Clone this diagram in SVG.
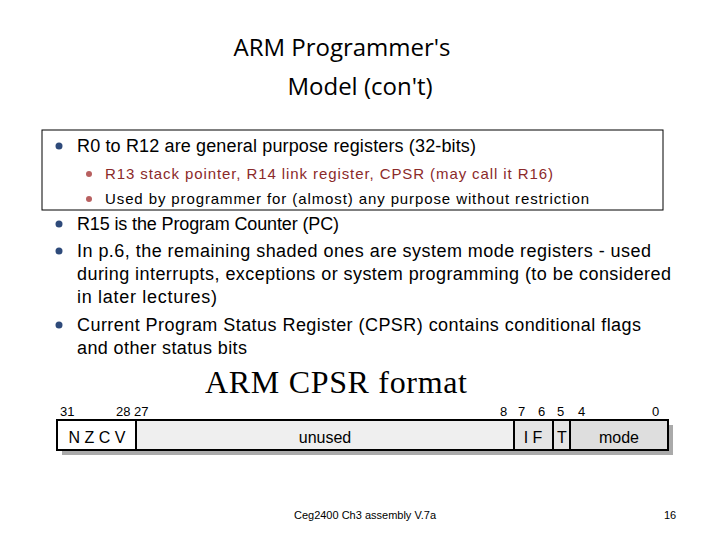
<svg xmlns="http://www.w3.org/2000/svg" width="720" height="540" viewBox="0 0 720 540">
<style>
.t{font-family:"Open Sans","Noto Sans",sans-serif;font-size:24px;fill:#000;text-anchor:middle}
.b{font-family:"Liberation Sans",Arial,sans-serif;font-size:18px;fill:#000}
.s{font-family:"Liberation Sans",Arial,sans-serif;font-size:15px;fill:#000}
.n{font-family:"Liberation Sans",Arial,sans-serif;font-size:13px;fill:#000}
.f{font-family:"Liberation Sans",Arial,sans-serif;font-size:16px;fill:#000;text-anchor:middle}
.c{fill:none;stroke:#000;stroke-width:2}
</style>
<rect width="720" height="540" fill="#fff"/>
<text class="t" x="342" y="56">ARM Programmer's</text>
<text class="t" x="360" y="95">Model (con't)</text>
<rect x="42" y="130" width="621" height="80" fill="none" stroke="#000" stroke-width="1"/>
<g fill="#2e4a7a">
<circle cx="59" cy="146" r="3.5"/><circle cx="59" cy="224" r="3.5"/><circle cx="59" cy="251" r="3.5"/><circle cx="59" cy="325" r="3.5"/>
</g>
<g fill="#b86060"><circle cx="89" cy="174" r="3"/><circle cx="89" cy="199" r="3"/></g>
<text class="b" x="77" y="152" textLength="399">R0 to R12 are general purpose registers (32-bits)</text>
<text class="s" x="105" y="179" textLength="448" style="fill:#8b2a2a">R13 stack pointer, R14 link register, CPSR (may call it R16)</text>
<text class="s" x="105" y="204" textLength="484">Used by programmer for (almost) any purpose without restriction</text>
<text class="b" x="77" y="230" textLength="262">R15 is the Program Counter (PC)</text>
<text class="b" x="77" y="257" textLength="574">In p.6, the remaining shaded ones are system mode registers - used</text>
<text class="b" x="77" y="280" textLength="594">during interrupts, exceptions or system programming (to be considered</text>
<text class="b" x="77" y="303" textLength="140">in later lectures)</text>
<text class="b" x="77" y="331" textLength="564">Current Program Status Register (CPSR) contains conditional flags</text>
<text class="b" x="77" y="354" textLength="170">and other status bits</text>
<text x="336" y="393" style="font-family:'Liberation Serif','Times New Roman',serif;font-size:32px;text-anchor:middle" textLength="262">ARM CPSR format</text>
<g id="cpsr">
<rect x="62" y="425" width="611" height="30" fill="#aaa"/>
<rect x="57" y="420" width="79" height="30" fill="#fff"/>
<rect x="136" y="420" width="378" height="30" fill="#efefef"/>
<rect x="514" y="420" width="56" height="30" fill="#e4e4e4"/>
<rect x="570" y="420" width="98" height="30" fill="#dedede"/>
<rect x="57" y="420" width="611" height="30" class="c"/>
<path d="M136 420V450M514 420V450M553 420V450M570 420V450" class="c"/>
<text class="f" x="97" y="443">N Z C V</text>
<text class="f" x="325" y="443">unused</text>
<text class="f" x="533" y="443">I F</text>
<text class="f" x="562" y="443">T</text>
<text class="f" x="619" y="443">mode</text>
<text class="n" x="60" y="416">31</text>
<text class="n" x="116" y="416">28 27</text>
<text class="n" x="500" y="416">8</text>
<text class="n" x="518" y="416">7</text>
<text class="n" x="538" y="416">6</text>
<text class="n" x="557" y="416">5</text>
<text class="n" x="578" y="416">4</text>
<text class="n" x="652" y="416">0</text>
</g>
<text x="365" y="519" style="font-family:'Liberation Sans',Arial,sans-serif;font-size:11px;text-anchor:middle">Ceg2400 Ch3 assembly V.7a</text>
<text x="670" y="519" style="font-family:'Liberation Sans',Arial,sans-serif;font-size:11px;text-anchor:middle">16</text>
</svg>
